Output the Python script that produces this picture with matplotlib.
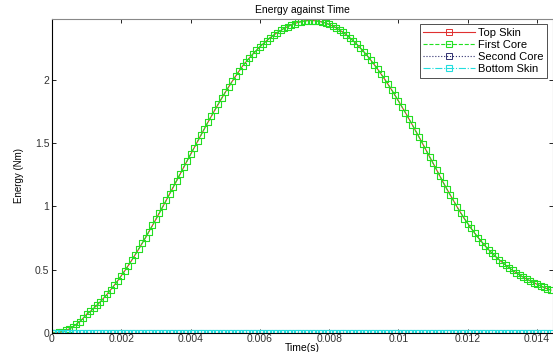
import numpy as np
import matplotlib
matplotlib.use('Agg')
import matplotlib.pyplot as plt

# energy against time, four layers (top skin overlaps first core, the others stay at ~0)

time_step = 0.0001
first_core = [
    0.000, 0.001, 0.005, 0.011, 0.020, 0.032, 0.049, 0.068, 0.089, 0.117,
    0.148, 0.170, 0.194, 0.220, 0.248, 0.278, 0.309, 0.343, 0.378, 0.414,
    0.452, 0.491, 0.532, 0.574, 0.618, 0.662, 0.708, 0.754, 0.802, 0.850,
    0.899, 0.949, 1.000, 1.050, 1.102, 1.153, 1.205, 1.257, 1.309, 1.361,
    1.412, 1.464, 1.515, 1.566, 1.616, 1.666, 1.714, 1.763, 1.810, 1.856,
    1.902, 1.946, 1.989, 2.030, 2.071, 2.110, 2.143, 2.174, 2.206, 2.234,
    2.262, 2.287, 2.312, 2.335, 2.355, 2.375, 2.392, 2.408, 2.421, 2.435,
    2.446, 2.455, 2.462, 2.467, 2.470, 2.470, 2.468, 2.464, 2.458, 2.450,
    2.439, 2.427, 2.412, 2.395, 2.377, 2.356, 2.333, 2.308, 2.282, 2.253,
    2.223, 2.191, 2.157, 2.121, 2.085, 2.046, 2.007, 1.965, 1.923, 1.879,
    1.834, 1.788, 1.742, 1.694, 1.645, 1.596, 1.546, 1.495, 1.444, 1.393,
    1.341, 1.290, 1.238, 1.186, 1.136, 1.088, 1.040, 0.993, 0.948, 0.905,
    0.865, 0.826, 0.789, 0.754, 0.721, 0.689, 0.659, 0.631, 0.605, 0.580,
    0.557, 0.535, 0.514, 0.494, 0.476, 0.458, 0.442, 0.426, 0.412, 0.398,
    0.385, 0.372, 0.360, 0.349, 0.339,
]
top_skin = list(first_core)
second_core = [0.0] * len(first_core)
bottom_skin = [0.0] * len(first_core)
time = np.arange(len(first_core)) * time_step

x_ticks = [0, 0.002, 0.004, 0.006, 0.008, 0.01, 0.012, 0.014]
x_tick_labels = ['0', '0.002', '0.004', '0.006', '0.008', '0.01', '0.012', '0.014']
y_ticks = [0, 0.5, 1, 1.5, 2]
y_tick_labels = ['0', '0.5', '1', '1.5', '2']

plt.rcParams['font.family'] = ['Liberation Sans', 'DejaVu Sans']

fig = plt.figure(figsize=(5.53, 3.52), dpi=100)
ax = fig.add_axes([0.094, 0.054, 0.906, 0.892])

ms = 5
ax.plot(time, top_skin, color='#e03030', linestyle='-', linewidth=0.8,
        marker='s', markersize=ms, markerfacecolor='none', markeredgewidth=0.7,
        label='Top Skin')
ax.plot(time, first_core, color='#22e022', linestyle='--', linewidth=0.8,
        marker='s', markersize=ms, markerfacecolor='none', markeredgewidth=0.8,
        label='First Core')
ax.plot(time, second_core, color='#303070', linestyle=':', linewidth=0.8,
        marker='s', markersize=ms, markerfacecolor='none', markeredgewidth=0.7,
        label='Second Core')
ax.plot(time, bottom_skin, color='#22dddd', linestyle='-.', linewidth=0.8,
        marker='s', markersize=ms, markerfacecolor='none', markeredgewidth=0.8,
        label='Bottom Skin')

ax.set_xlim(0, 0.01446)
ax.set_ylim(0, 2.482)
ax.set_xticks(x_ticks)
ax.set_xticklabels(x_tick_labels)
ax.set_yticks(y_ticks)
ax.set_yticklabels(y_tick_labels)
ax.tick_params(direction='in', length=3, width=0.6, labelsize=7.5,
               labelcolor='#333333', top=True, right=True, pad=2)
ax.tick_params(axis='x', pad=1)

for side in ['top', 'right']:
    ax.spines[side].set_color('#888888')
ax.spines['left'].set_color('black')
ax.spines['bottom'].set_color('black')
for sp in ax.spines.values():
    sp.set_linewidth(0.8)

ax.set_title('Energy against Time', fontsize=7.5, pad=4)
ax.set_xlabel('Time(s)', fontsize=7.5, labelpad=-1)
ax.set_ylabel('Energy (Nm)', fontsize=7, labelpad=8)

leg = ax.legend(loc='upper right', bbox_to_anchor=(0.992, 0.99), fontsize=8,
                frameon=True, fancybox=False, borderpad=0.3, labelspacing=0.2,
                handlelength=4.6, handletextpad=0.3, borderaxespad=0.2)
leg.get_frame().set_edgecolor('black')
leg.get_frame().set_linewidth(0.6)

fig.savefig('out.png', dpi=100)
